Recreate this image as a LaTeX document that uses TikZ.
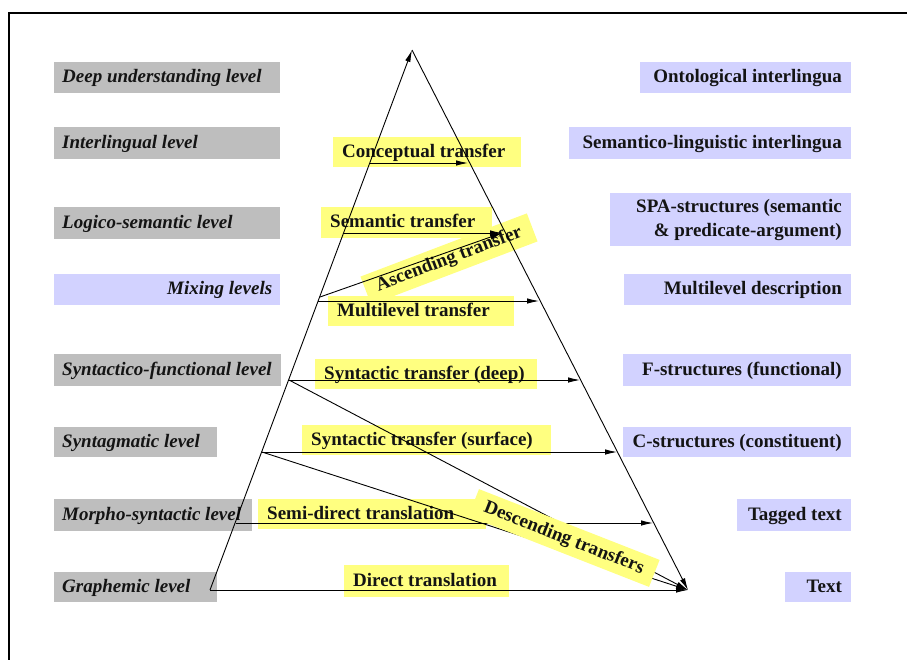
\documentclass[tikz,border=0pt]{standalone}
\usepackage{fontspec}
\setmainfont{Liberation Serif}
\usetikzlibrary{arrows.meta}
\definecolor{lgray}{RGB}{190,190,190}
\definecolor{lblue}{RGB}{210,210,255}
\definecolor{lyell}{RGB}{255,255,128}
\definecolor{txt}{RGB}{20,20,20}
\newcommand\BoxL[2]{\makebox[#1][l]{#2}}
\newcommand\BoxR[2]{\makebox[#1][r]{#2}}
\begin{document}
\begin{tikzpicture}[x=1pt,y=-1pt,
  every node/.style={font=\fontsize{19}{23}\selectfont\bfseries, text=txt, inner ysep=0pt, text height=14pt, text depth=4pt},
  lvl/.style={fill=lgray, font=\fontsize{19}{23}\selectfont\bfseries\itshape, anchor=north west, inner xsep=8pt},
  mixlvl/.style={fill=lblue, font=\fontsize{19}{23}\selectfont\bfseries\itshape, anchor=north west, inner xsep=8pt},
  repr/.style={fill=lblue, anchor=north east, inner xsep=9pt},
  trans/.style={fill=lyell, anchor=north west, inner xsep=9pt},
  edge/.style={line width=0.9pt, draw=black, -{Latex[length=12pt,width=5.5pt]}},
]
\useasboundingbox (0,0) rectangle (907,659);
% frame
\coordinate (fb) at (8.7,670);
\coordinate (fc) at (8.7,12.7);
\coordinate (fr) at (920,12.7);
\draw[line width=1.8pt] (fb) -- (fc) -- (fr);

% left level boxes
\node[lvl, minimum height=31pt] (deep) at (54,62) {\BoxL{210pt}{Deep understanding level}};
\node[lvl, minimum height=32pt] (inter) at (54,127) {\BoxL{210pt}{Interlingual level}};
\node[lvl, minimum height=32pt] (logico) at (54,207) {\BoxL{210pt}{Logico-semantic level}};
\node[mixlvl, minimum height=31pt] (mix) at (54,274) {\BoxR{210pt}{Mixing levels}};
\node[lvl, minimum height=32pt] (synfun) at (54,354) {\BoxL{211pt}{Syntactico-functional level}};
\node[lvl, minimum height=30pt] (syntag) at (54,427) {\BoxL{147pt}{Syntagmatic level}};
\node[lvl, minimum height=32pt] (morpho) at (54,499) {\BoxL{182pt}{Morpho-syntactic level}};
\node[lvl, minimum height=30pt] (graph) at (54,572) {\BoxL{147pt}{Graphemic level}};

% right representation boxes
\node[repr, minimum height=31pt] (onto) at (851,62) {\BoxR{193pt}{Ontological interlingua}};
\node[repr, minimum height=32pt] (semling) at (851,127) {\BoxR{264pt}{Semantico-linguistic interlingua}};
\node[repr, minimum height=53pt, font=\fontsize{19}{24}\selectfont\bfseries, text height=38pt, text depth=4pt] (spa) at (851,193)
  {\BoxR{223pt}{\begin{tabular}[b]{@{}r@{}}SPA-structures (semantic\\ \& predicate-argument)\end{tabular}}};
\node[repr, minimum height=31pt] (multdesc) at (851,274) {\BoxR{209pt}{Multilevel description}};
\node[repr, minimum height=32pt] (fstr) at (851,354) {\BoxR{210pt}{F-structures (functional)}};
\node[repr, minimum height=30pt] (cstr) at (851,427) {\BoxR{210pt}{C-structures (constituent)}};
\node[repr, minimum height=32pt] (tagged) at (851,499) {\BoxR{96pt}{Tagged text}};
\node[repr, minimum height=30pt] (textn) at (851,572) {\BoxR{48pt}{Text}};

% transfer labels
\node[trans, minimum height=30pt] (concept) at (333,137) {\BoxL{170pt}{Conceptual transfer}};
\node[trans, minimum height=31pt] (semtr) at (321,207) {\BoxL{153pt}{Semantic transfer}};
\node[trans, minimum height=30pt] (multtr) at (328,296) {\BoxL{168pt}{Multilevel transfer}};
\node[trans, minimum height=30pt] (deeptr) at (315,359) {\BoxL{204pt}{Syntactic transfer (deep)}};
\node[trans, minimum height=30pt] (surftr) at (302,425) {\BoxL{231pt}{Syntactic transfer (surface)}};
\node[trans, minimum height=30pt] (semidir) at (258,499) {\BoxL{210pt}{Semi-direct translation}};
\node[trans, minimum height=32pt] (direct) at (344,565) {\BoxL{147pt}{Direct translation}};
\node[fill=lyell, rotate=20.8, minimum width=178pt, minimum height=30pt] (asc) at (449,259) {Ascending transfer};

% triangle and points
\coordinate (apex) at (412,50);
\coordinate (bl) at (210,590);
\coordinate (br) at (688,590);
\coordinate (L1) at (370,163); \coordinate (R1) at (468,163);
\coordinate (L2) at (344,233); \coordinate (R2) at (502,233);
\coordinate (L3) at (318,301); \coordinate (R3) at (539,301);
\coordinate (L4) at (289,380); \coordinate (R4) at (580,380);
\coordinate (L5) at (262,452); \coordinate (R5) at (617,452);
\coordinate (L6) at (236,523); \coordinate (R6) at (653,523);
\coordinate (A0) at (320,297);

\draw[edge] (bl) -- (apex);
\draw[edge] (apex) -- (br);
\draw[edge] (L1) -- (R1);
\draw[edge] (L2) -- (R2);
\draw[edge] (A0) -- (R2);
\draw[edge] (L3) -- (R3);
\draw[edge] (L4) -- (R4);
\draw[edge] (L5) -- (R5);
\draw[edge] (L6) -- (R6);
\draw[edge] (bl) -- (br);
\draw[edge] (L4) -- (br);
\draw[edge] (L5) -- (br);

\node[fill=lyell, rotate=-21.4, minimum width=194pt, minimum height=29pt] (desc) at (564,538) {Descending transfers};
\end{tikzpicture}
\end{document}
